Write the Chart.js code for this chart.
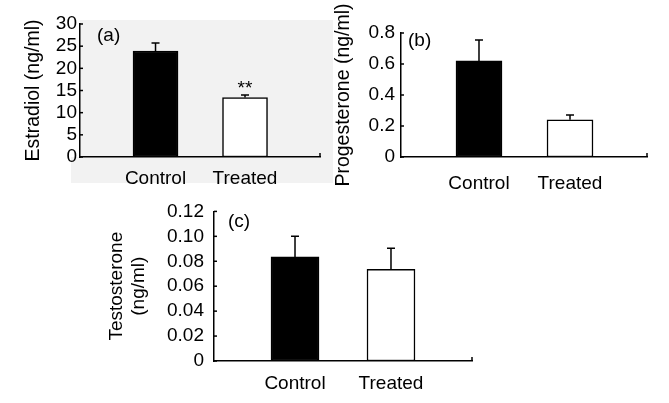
<!DOCTYPE html>
<html><head><meta charset="utf-8">
<script src="https://cdn.jsdelivr.net/npm/chart.js@4.4.1/dist/chart.umd.min.js"></script>
<style>
html,body{margin:0;padding:0;background:#fff;width:669px;height:403px;overflow:hidden;}
canvas{position:absolute;}
</style></head><body>
<canvas id="ca" width="340" height="195" style="left:0;top:0;width:340px;height:195px"></canvas>
<canvas id="cb" width="349" height="195" style="left:320px;top:0;width:349px;height:195px"></canvas>
<canvas id="cc" width="400" height="213" style="left:90px;top:190px;width:400px;height:213px"></canvas>
<script>
const categories = ['Control', 'Treated'];
const barColors = ['#000000', '#ffffff'];

const estradiolMeans = [23.9, 13.4];
const estradiolErrors = [1.8, 0.6];
const estradiolNotes = ['', '**'];
const estradiolAxis = [0, 30, 5];

const progesteroneMeans = [0.62, 0.24];
const progesteroneErrors = [0.135, 0.031];
const progesteroneAxis = [0, 0.8, 0.2];

const testosteroneMeans = [0.0835, 0.0735];
const testosteroneErrors = [0.0165, 0.017];
const testosteroneAxis = [0, 0.12, 0.02];

const FONT = "'Liberation Sans', Arial, Helvetica, sans-serif";
Chart.defaults.color = '#000';
Chart.defaults.font.family = FONT;
Chart.defaults.font.size = 19;

const decor = {
  id: 'decor',
  beforeDraw(chart, args, o) {
    if (!o.shade) return;
    const {ctx, chartArea: a} = chart;
    ctx.save();
    ctx.fillStyle = '#f2f2f2';
    ctx.fillRect(a.left, a.top - 4, a.right + 13 - a.left, a.bottom - a.top + 4);
    ctx.fillRect(a.left - 9, a.bottom, a.right + 22 - a.left, 26);
    ctx.restore();
  },
  afterDraw(chart, args, o) {
    const {ctx, chartArea: a, scales: {x, y}} = chart;
    ctx.save();
    ctx.strokeStyle = '#000';
    ctx.lineWidth = 1.5;
    y.ticks.forEach(t => {
      const py = y.getPixelForValue(t.value);
      ctx.beginPath(); ctx.moveTo(a.left, py); ctx.lineTo(a.left + 3, py); ctx.stroke();
    });
    ctx.beginPath(); ctx.moveTo(a.right, a.bottom); ctx.lineTo(a.right, a.bottom - 4); ctx.stroke();
    const meta = chart.getDatasetMeta(0);
    const ds = chart.data.datasets[0];
    meta.data.forEach((bar, i) => {
      const top = y.getPixelForValue(ds.data[i].y + o.errors[i]);
      ctx.beginPath();
      ctx.moveTo(bar.x, bar.y); ctx.lineTo(bar.x, top);
      ctx.moveTo(bar.x - 4, top); ctx.lineTo(bar.x + 4, top);
      ctx.stroke();
      if (o.notes && o.notes[i]) {
        ctx.fillStyle = '#000';
        ctx.font = '19px ' + FONT;
        ctx.textAlign = 'center';
        ctx.textBaseline = 'alphabetic';
        ctx.fillText(o.notes[i], bar.x, top - 1);
      }
    });
    ctx.fillStyle = '#000';
    ctx.font = '19px ' + FONT;
    ctx.textAlign = 'left';
    ctx.textBaseline = 'alphabetic';
    ctx.fillText(o.label, a.left + o.labelDx, a.top + o.labelDy);
    ctx.restore();
  }
};

function makeChart(id, means, errors, axis, title, cfg) {
  return new Chart(document.getElementById(id), {
    type: 'bar',
    data: {
      datasets: [{
        data: means.map((v, i) => ({x: i, y: v})),
        backgroundColor: barColors,
        borderColor: '#000',
        borderWidth: 1.5,
        borderSkipped: false,
        barThickness: cfg.barW
      }]
    },
    options: {
      responsive: false,
      animation: false,
      devicePixelRatio: 1,
      layout: {padding: {left: cfg.padL, right: cfg.padR, top: cfg.padT, bottom: 0}},
      plugins: {
        legend: {display: false},
        tooltip: {enabled: false},
        decor: {errors: errors, notes: cfg.notes, label: cfg.label, labelDx: cfg.labelDx, labelDy: cfg.labelDy, shade: cfg.shade}
      },
      scales: {
        x: {
          type: 'linear',
          min: cfg.xMin, max: cfg.xMax,
          offset: false,
          z: 1,
          grid: {display: false, drawTicks: false, offset: false},
          border: {display: true, color: '#000', width: 1.5},
          afterBuildTicks: s => { s.ticks = categories.map((_, i) => ({value: i})); },
          afterFit: s => { s.height = cfg.xH; },
          ticks: {autoSkip: false, maxRotation: 0, padding: cfg.xPad, callback: v => categories[v] ?? '', font: {size: 19}}
        },
        y: {
          min: axis[0], max: axis[1],
          z: 1,
          grid: {display: false, drawTicks: false},
          border: {display: true, color: '#000', width: 1.5},
          afterFit: s => { s.width = cfg.yW; },
          title: {display: true, text: title, font: {size: cfg.titleSize, lineHeight: 1.16}, padding: {top: 4, bottom: 4}},
          ticks: {stepSize: axis[2], autoSkip: false, padding: cfg.yPad, font: {size: 19}, callback: cfg.fmt}
        }
      }
    },
    plugins: [decor]
  });
}

makeChart('ca', estradiolMeans, estradiolErrors, estradiolAxis, 'Estradiol (ng/ml)', {
  barW: 45, padL: 18, padR: 20, padT: 24, yW: 62, xH: 38, xPad: 10, yPad: 3, titleSize: 19.5,
  xMin: -0.844, xMax: 1.838,
  label: '(a)', labelDx: 17, labelDy: 17, shade: true, notes: estradiolNotes,
  fmt: v => String(v)
});
makeChart('cb', progesteroneMeans, progesteroneErrors, progesteroneAxis, 'Progesterone (ng/ml)', {
  barW: 46, padL: 8, padR: 22, padT: 33, yW: 73, xH: 38, xPad: 15, yPad: 6, titleSize: 19.5,
  xMin: -0.857, xMax: 1.846,
  label: '(b)', labelDx: 7, labelDy: 13, shade: false, notes: null,
  fmt: v => (v === 0 ? '0' : (+v).toFixed(1))
});
makeChart('cc', testosteroneMeans, testosteroneErrors, testosteroneAxis, ['Testosterone', '(ng/ml)'], {
  barW: 48, padL: 12, padR: 18, padT: 15, yW: 112, xH: 42, xPad: 11, yPad: 10, titleSize: 19,
  xMin: -0.844, xMax: 1.844,
  label: '(c)', labelDx: 14, labelDy: 16, shade: false, notes: null,
  fmt: v => (v === 0 ? '0' : (+v).toFixed(2))
});
</script>
</body></html>
